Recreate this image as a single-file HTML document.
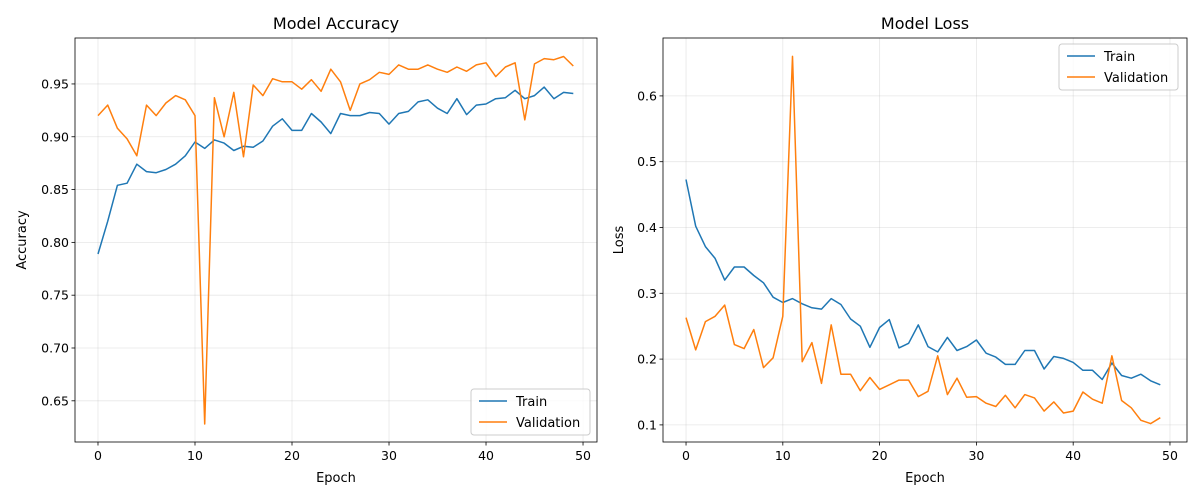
<!DOCTYPE html>
<html><head><meta charset="utf-8"><style>
html,body{margin:0;padding:0;background:#fff;}
svg{display:block;font-family:"DejaVu Sans","Liberation Sans",sans-serif;}
</style></head><body>
<svg id="chart" width="1200" height="500" viewBox="0 0 1200 500" xmlns="http://www.w3.org/2000/svg"></svg>
<script>
const epochs = Array.from({length:50},(_,i)=>i);
const accTrain = [0.789,0.820,0.854,0.856,0.874,0.867,0.866,0.869,0.874,0.882,0.895,0.889,0.897,0.894,0.887,0.891,0.890,0.896,0.910,0.917,0.906,0.906,0.922,0.914,0.903,0.922,0.920,0.920,0.923,0.922,0.912,0.922,0.924,0.933,0.935,0.927,0.922,0.936,0.921,0.930,0.931,0.936,0.937,0.944,0.936,0.939,0.947,0.936,0.942,0.941];
const accVal = [0.920,0.930,0.908,0.898,0.882,0.930,0.920,0.932,0.939,0.935,0.920,0.628,0.937,0.900,0.942,0.881,0.949,0.939,0.955,0.952,0.952,0.945,0.954,0.943,0.964,0.952,0.925,0.950,0.954,0.961,0.959,0.968,0.964,0.964,0.968,0.964,0.961,0.966,0.962,0.968,0.970,0.957,0.966,0.970,0.916,0.969,0.974,0.973,0.976,0.967];
const lossTrain = [0.473,0.402,0.371,0.353,0.320,0.340,0.340,0.327,0.316,0.294,0.286,0.292,0.284,0.278,0.276,0.292,0.283,0.261,0.250,0.218,0.248,0.260,0.217,0.224,0.252,0.219,0.211,0.233,0.213,0.219,0.229,0.209,0.203,0.192,0.192,0.213,0.213,0.185,0.204,0.201,0.195,0.183,0.183,0.169,0.194,0.175,0.171,0.177,0.167,0.161];
const lossVal = [0.263,0.214,0.257,0.265,0.282,0.222,0.216,0.245,0.187,0.202,0.265,0.660,0.196,0.225,0.163,0.252,0.177,0.177,0.152,0.172,0.154,0.161,0.168,0.168,0.143,0.151,0.205,0.146,0.171,0.142,0.143,0.133,0.128,0.145,0.126,0.146,0.141,0.121,0.135,0.118,0.121,0.150,0.139,0.133,0.205,0.137,0.126,0.107,0.102,0.111];
const xTicks = [0,10,20,30,40,50];
const accTicks = ["0.65","0.70","0.75","0.80","0.85","0.90","0.95"];
const lossTicks = ["0.1","0.2","0.3","0.4","0.5","0.6"];

const NS="http://www.w3.org/2000/svg";
const svg=document.getElementById('chart');
function mk(tag,attrs,parent,text){const e=document.createElementNS(NS,tag);for(const k in attrs)e.setAttribute(k,attrs[k]);if(text!==undefined)e.textContent=text;(parent||svg).appendChild(e);return e;}

function panel(cfg){
  const {L,R,T,B,x0,x1,y0,y1,title,ylabel,yTicks,train,val,legendPos,name}=cfg;
  const g=mk('g',{});
  
  
  const xs=v=>L+(v-x0)/(x1-x0)*(R-L);
  const ys=v=>B-(v-y0)/(y1-y0)*(B-T);
  // grid
  xTicks.forEach(t=>{const l=mk('line',{x1:xs(t),x2:xs(t),y1:T,y2:B,stroke:'#b0b0b0','stroke-opacity':0.3,'stroke-width':0.8},g);
    });
  yTicks.forEach(s=>{const t=parseFloat(s);const l=mk('line',{x1:L,x2:R,y1:ys(t),y2:ys(t),stroke:'#b0b0b0','stroke-opacity':0.3,'stroke-width':0.8},g);
    });
  // lines
  const series=[[train,'#1f77b4','train-line'],[val,'#ff7f0e','validation-line']];
  series.forEach(([d,c,n])=>{
    const p=mk('polyline',{points:d.map((v,i)=>xs(epochs[i]).toFixed(1)+','+ys(v).toFixed(1)).join(' '),fill:'none',stroke:c,'stroke-width':1.5,'stroke-linejoin':'round'},g);
    
  });
  // frame
  const f=mk('rect',{x:L,y:T,width:R-L,height:B-T,fill:'none',stroke:'#000','stroke-width':0.8},g);
  
  // ticks
  xTicks.forEach(t=>{mk('line',{x1:xs(t),x2:xs(t),y1:B,y2:B+3.5,stroke:'#000','stroke-width':0.8},g);
    const tx=mk('text',{x:xs(t),y:B+18,'font-size':12.5,'text-anchor':'middle',fill:'#000'},g,String(t));
    });
  yTicks.forEach(s=>{const t=parseFloat(s);mk('line',{x1:L-3.5,x2:L,y1:ys(t),y2:ys(t),stroke:'#000','stroke-width':0.8},g);
    const tx=mk('text',{x:L-6,y:ys(t)+4.5,'font-size':12.5,'text-anchor':'end',fill:'#000'},g,s);
    });
  const tt=mk('text',{x:(L+R)/2,y:T-9,'font-size':16,'text-anchor':'middle'},g,title);
  
  const xl=mk('text',{x:(L+R)/2,y:B+40,'font-size':13,'text-anchor':'middle'},g,'Epoch');
  
  const yx=cfg.ylx;
  const yl=mk('text',{x:yx,y:(T+B)/2,'font-size':13,'text-anchor':'middle',transform:`rotate(-90 ${yx} ${(T+B)/2})`},g,ylabel);
  
  // legend
  const [lx,ly]=legendPos;
  const lg=mk('g',{},g);
  
  mk('rect',{x:lx,y:ly,width:119,height:46,rx:3,fill:'#fff','fill-opacity':0.8,stroke:'#cccccc','stroke-width':1},lg);
  [['Train','#1f77b4'],['Validation','#ff7f0e']].forEach(([n,c],i)=>{
    const e=mk('g',{},lg);
    
    mk('line',{x1:lx+8,x2:lx+36,y1:ly+12+i*21,y2:ly+12+i*21,stroke:c,'stroke-width':1.5},e);
    mk('text',{x:lx+45,y:ly+17+i*21,'font-size':13},e,n);
  });
}
panel({name:'accuracy-chart',L:75,R:597,T:38,B:442,x0:-2.37,x1:51.44,y0:0.611,y1:0.9935,title:'Model Accuracy',ylabel:'Accuracy',yTicks:accTicks,train:accTrain,val:accVal,legendPos:[471,389],ylx:26});
panel({name:'loss-chart',L:663,R:1187,T:38,B:442,x0:-2.38,x1:51.76,y0:0.074,y1:0.688,title:'Model Loss',ylabel:'Loss',yTicks:lossTicks,train:lossTrain,val:lossVal,legendPos:[1059,44],ylx:623});
</script>
</body></html>
